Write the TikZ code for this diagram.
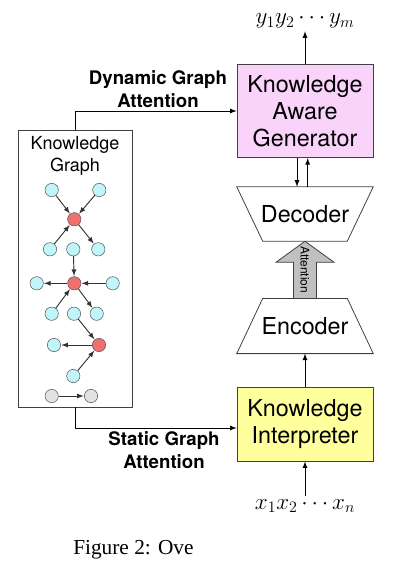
\documentclass[tikz,border=0pt]{standalone}
\usepackage{fontspec}
\setmainfont{TeX Gyre Heros}
\newfontfamily\capfont{Liberation Serif}
\usetikzlibrary{positioning}
\usetikzlibrary{calc}
\usetikzlibrary{arrows}
\definecolor{genpink}{RGB}{249,211,249}
\definecolor{intyellow}{RGB}{255,255,158}
\definecolor{entcyan}{RGB}{192,246,250}
\definecolor{hubred}{RGB}{240,112,112}
\definecolor{auxgray}{RGB}{226,226,226}
\definecolor{attgray}{RGB}{192,192,192}

\tikzset{
  trapbox/.style={minimum width=102pt, align=center,
                  font=\fontsize{17.5}{20.25}\selectfont},
  block/.style={trapbox, draw=black!75, line width=0.6pt},
  outline/.style={black!75, line width=0.6pt},
  kgent/.style={circle, draw=black!65, fill=entcyan, minimum size=10pt, inner sep=0pt},
  kghub/.style={kgent, fill=hubred},
  kgaux/.style={kgent, fill=auxgray},
  edge/.style={->, >=latex, black!80, line width=0.7pt, shorten >=0.3pt},
  flow/.style={->, >=latex, line width=0.7pt},
  attlabel/.style={font=\bfseries\fontsize{14}{17}\selectfont, align=center}
}

\begin{document}
\begin{tikzpicture}[x=0.75pt,y=-0.75pt]
\useasboundingbox (0,0) rectangle (409,572);

%---------------------------------------
% Generator / decoder / encoder / interpreter
%---------------------------------------
\node[block, fill=genpink, minimum height=70pt] (gen) at (305,111)
     {Knowledge\\Aware\\Generator};
\node[trapbox, minimum height=40.5pt] (dec) at (305,214) {Decoder};
\node[trapbox, minimum height=41pt] (enc) at (305,326) {Encoder};
\node[block, fill=intyellow, minimum height=55.5pt] (interp) at (305,424)
     {Knowledge\\Interpreter};

% the two trapezia round the text nodes
\draw[outline] (dec.north west) -- (dec.north east)
     -- ($(dec.south east)+(-26,0)$) -- ($(dec.south west)+(26,0)$) -- cycle;
\draw[outline] ($(enc.north west)+(26,0)$) -- ($(enc.north east)+(-26,0)$)
     -- (enc.south east) -- (enc.south west) -- cycle;

% input and output sequences
\node[font=\fontsize{18}{18}\selectfont, inner sep=2pt] (ylab) at (305,21) {$y_1y_2\cdots y_m$};
\node[font=\fontsize{18}{18}\selectfont, inner sep=2pt] (xlab) at (305,506) {$x_1x_2\cdots x_n$};

\draw[flow] (gen.north) -- (ylab.south);
\draw[flow] (xlab.north) -- (interp.south);
\draw[flow] (interp.north) -- (enc.south);
\draw[flow] ([xshift=-6pt]gen.south) -- ([xshift=-6pt]dec.north);
\draw[flow] ([xshift=2pt]dec.north) -- ([xshift=2pt]gen.south);

% fat attention arrow
\draw[outline, fill=attgray]
     ($(enc.north)+(-11.5,0)$) -- ($(dec.south)+(-11.5,21)$) -- ($(dec.south)+(-29,21)$)
     -- (dec.south) -- ($(dec.south)+(29,21)$) -- ($(dec.south)+(11.5,21)$)
     -- ($(enc.north)+(11.5,0)$) -- cycle;
\node[rotate=-90, font=\fontsize{9}{9}\selectfont, inner sep=0pt] (att)
     at ($(dec.south)!0.5!(enc.north)$) {Attention};

%---------------------------------------
% Knowledge graph
%---------------------------------------
\node[draw=black!75, line width=0.6pt, minimum width=85.5pt, minimum height=207.75pt]
     (kg) at (75,268.5) {};
\node[font=\fontsize{13.5}{16.5}\selectfont, align=center] (kgtitle) at (75,156)
     {Knowledge\\Graph};

\node[kgent] (a1) at (51.7,190) {};
\node[kgent] (a2) at (99.3,190) {};
\node[kghub] (h1) at (74.3,219.3) {};
\node[kgent] (b1) at (50,249.3) {};
\node[kgent] (b2) at (73.3,249.3) {};
\node[kgent] (b3) at (98.3,249.3) {};
\node[kghub] (h2) at (74.3,283.3) {};
\node[kgent] (c1) at (36.7,283.3) {};
\node[kgent] (c2) at (112.7,283.3) {};
\node[kgent] (d1) at (51.7,313.7) {};
\node[kgent] (d2) at (74,313.7) {};
\node[kgent] (d3) at (96.7,313.7) {};
\node[kghub] (h3) at (99,345) {};
\node[kgent] (e1) at (54,345) {};
\node[kgent] (e2) at (73.3,376) {};
\node[kgaux] (g1) at (51.7,396) {};
\node[kgaux] (g2) at (91,396) {};

\foreach \u/\v in {a1/h1, a2/h1, b1/h1, h1/b3, b2/h2, h2/c1, c2/h2, d1/h2, h2/d3,
                   d2/h3, h3/e1, e2/h3, g1/g2}
  \draw[edge] (\u) -- (\v);

% graph attention links
\draw[flow] (kg.north) |- (gen.west);
\draw[flow] (kg.south) |- ([yshift=-3pt]interp.west);
\node[attlabel] (dyn) at (158,89) {Dynamic Graph\\Attention};
\node[attlabel] (stat) at (164,450) {Static Graph\\Attention};

% caption
\node[font=\capfont\fontsize{16}{19}\selectfont, anchor=west, inner sep=0pt] (cap)
     at (73,550) {Figure 2: Ove};

\end{tikzpicture}
\end{document}
